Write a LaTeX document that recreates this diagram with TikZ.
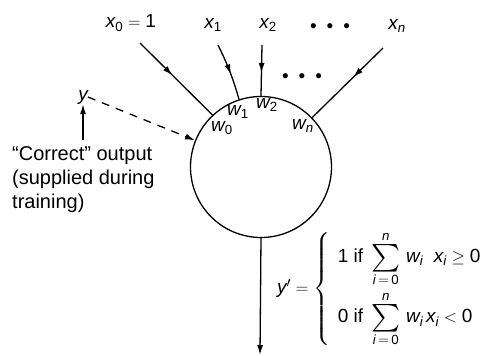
\documentclass[tikz,border=0pt]{standalone}
\usepackage{amsmath,amssymb}
\usepackage{graphicx}
\usepackage{fontspec}
\setmainfont{Liberation Sans}
\usetikzlibrary{arrows.meta,decorations.markings}
\newcommand{\sv}[1]{\textit{#1}}
\newcommand{\bigsum}{\mathop{\vcenter{\hbox{\scalebox{1.45}{$\textstyle\sum$}}}}\limits}

\begin{document}
\begin{tikzpicture}[x=1pt, y=-1pt, every node/.style={font=\fontsize{19}{24}\selectfont, inner sep=0pt}, wire/.style={line width=1.3pt}, arr/.style={wire,-{Latex[length=10pt,width=6pt]}}, midarr/.style={wire,postaction={decorate},decoration={markings,mark=at position #1 with {\arrow{Latex[length=10pt,width=6pt]}}}}]
\useasboundingbox (0,0) rectangle (491,356);
\node[draw,circle,line width=1.3pt,minimum size=141pt] (neuron) at (261,167) {};
% inputs
\node (x0) at (131,23) {$\sv{x}_{\text{0}} = \text{1}$};
\node (x1) at (213,25) {$\sv{x}_{\text{1}}$};
\node (x2) at (268,25) {$\sv{x}_{\text{2}}$};
\node (dotstop) at (330,28) {\textbullet\hspace{10pt}\textbullet\hspace{10pt}\textbullet};
\node (xn) at (397,26) {$\sv{x}_{\sv{n}}$};
\node (dotsmid) at (302,78) {\textbullet\hspace{10pt}\textbullet\hspace{10pt}\textbullet};
\coordinate (in0) at (140,43);
\coordinate (in1) at (218,45);
\coordinate (in2) at (262,45);
\coordinate (inn) at (383,48);
\draw[midarr=0.45] (in0) -- (neuron.133);
\draw[midarr=0.55] (in1) to[bend left=5] (neuron.108);
\draw[midarr=0.55] (in2) -- (neuron.north);
\draw[midarr=0.42] (inn) -- (neuron.44);
% weights
\node (w0) at (222,128) {$\sv{w}_{\text{0}}$};
\node (w1) at (238,112) {$\sv{w}_{\text{1}}$};
\node (w2) at (267,105) {$\sv{w}_{\text{2}}$};
\node (wn) at (303,126) {$\sv{w}_{\sv{n}}$};
% desired output
\node (y) at (83,97) {$\sv{y}$};
\node[anchor=north west,align=left,font=\fontsize{20}{24}\selectfont] (note) at (12,146) {“Correct” output\\(supplied during\\training)};
\coordinate (ylow) at (83,140);
\draw[arr] (ylow) -- (y.south);
\draw[arr,dashed,dash pattern=on 8pt off 7pt] (y.east) -- (neuron.158);
% output
\coordinate (out) at (260,355);
\draw[arr] (neuron.south) -- (out);
\node[anchor=west] (rule) at (277,289) {$\sv{y}' = \left\{\begin{array}{@{\;\,}l}
  \text{1 if}\ \bigsum_{\sv{i}\,=\,\text{0}}^{\sv{n}}\, \sv{w}_{\sv{i}}\ \ \sv{x}_{\sv{i}} \geq \text{0}\\[22pt]
  \text{0 if}\ \bigsum_{\sv{i}\,=\,\text{0}}^{\sv{n}}\, \sv{w}_{\sv{i}}\,\sv{x}_{\sv{i}} < \text{0}
  \end{array}\right.$};
\end{tikzpicture}
\end{document}
